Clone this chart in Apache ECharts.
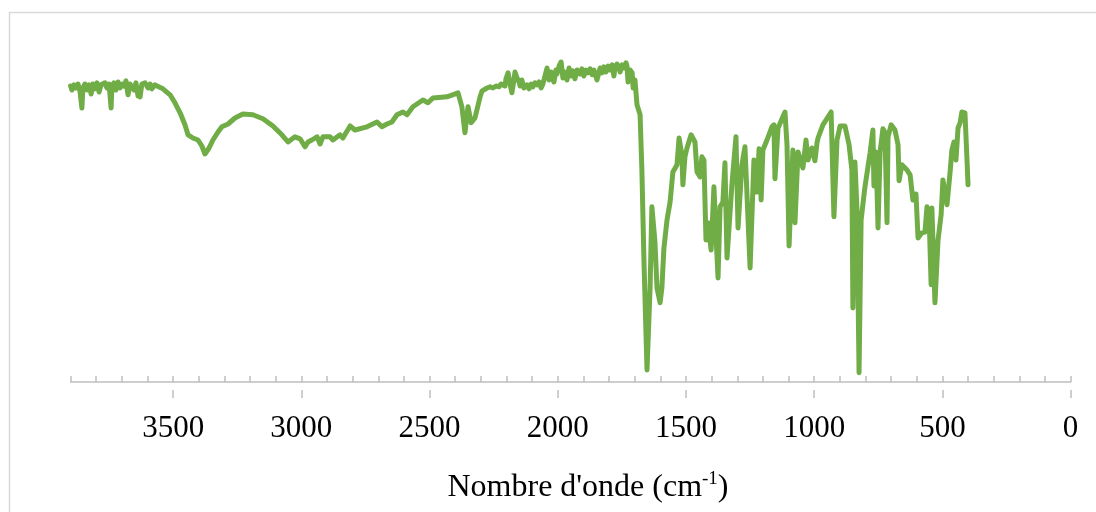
<!DOCTYPE html>
<html>
<head>
<meta charset="utf-8">
<title>Spectre IR</title>
<script src="https://cdn.jsdelivr.net/npm/echarts@6/dist/echarts.min.js"></script>
<style>
  html, body { margin: 0; padding: 0; background: #ffffff; }
  #chart { width: 1096px; height: 512px; }
</style>
</head>
<body>
<div id="chart"></div>
<script>
// Wavenumbers (cm-1) of the sampled spectrum points, high to low
const wavenumbers = [
  3900, 3895, 3887, 3879, 3871, 3863, 3856, 3852, 3844, 3836, 3828, 3820, 3813, 3805, 3797, 3789,
  3781, 3774, 3766, 3758, 3750, 3742, 3739, 3731, 3723, 3715, 3707, 3700, 3692, 3684, 3676, 3668,
  3661, 3653, 3645, 3637, 3629, 3622, 3610, 3598, 3590, 3583, 3571, 3563, 3540, 3512, 3493, 3473,
  3454, 3442, 3423, 3403, 3388, 3376, 3360, 3345, 3325, 3310, 3286, 3259, 3228, 3189, 3150, 3111,
  3076, 3052, 3025, 3005, 2986, 2974, 2959, 2939, 2927, 2916, 2888, 2877, 2849, 2838, 2810, 2791,
  2744, 2705, 2686, 2666, 2647, 2627, 2604, 2588, 2565, 2526, 2506, 2487, 2432, 2389, 2374, 2362,
  2350, 2338, 2323,
  2303, 2295, 2288, 2276, 2264, 2253, 2241, 2229, 2221, 2214, 2206, 2202, 2194, 2186, 2179, 2171,
  2167, 2159, 2151, 2147, 2140, 2132, 2120, 2112, 2104, 2097, 2089, 2081, 2073, 2065, 2058, 2050,
  2042, 2034, 2026, 2023, 2015, 2007, 2003, 1995, 1987, 1980, 1972, 1964, 1956, 1948, 1941, 1933,
  1925, 1913, 1906, 1898, 1890, 1882, 1874, 1866, 1859, 1847, 1839, 1835, 1827, 1820, 1812, 1804,
  1796, 1788, 1781, 1777, 1769, 1761, 1757, 1749, 1742, 1734, 1730, 1726, 1718, 1710, 1706, 1699,
  1691, 1679, 1672, 1664, 1652, 1640, 1633, 1621, 1613, 1601, 1594, 1586, 1574, 1562, 1551,
  1535, 1527, 1516, 1512, 1504, 1496, 1480, 1465, 1457, 1445, 1438, 1430, 1422, 1414, 1402, 1391,
  1383, 1375, 1367, 1356, 1348, 1340, 1321, 1305, 1297, 1282, 1270, 1250, 1235, 1223, 1215, 1207,
  1200, 1184, 1165, 1157, 1153, 1141, 1114, 1106, 1098, 1083, 1075, 1063, 1044, 1032, 1024, 1009,
  997, 989, 985, 966, 934, 923, 911, 899, 880, 864, 853, 849, 841, 833, 825, 817,
  802, 782, 771, 767, 759, 751, 743, 732, 724, 716, 712, 700, 685, 673, 669, 658,
  638, 626, 615, 603, 595, 580, 568, 560, 552, 544, 541, 529, 517, 505, 498, 482,
  470, 463, 455, 447, 439, 431, 424, 412, 404, 400
];

// Transmittance (%) at each wavenumber above
const transmittance = [
  74.0, 73.0, 74.3, 73.5, 74.5, 72.5, 68.5, 73.5, 74.5, 73.0, 74.3, 72.0, 74.5, 73.3, 74.8, 72.5,
  74.3, 73.8, 74.8, 73.5, 74.5, 68.5, 74.0, 74.8, 73.0, 75.0, 73.5, 74.5, 74.0, 75.3, 71.8, 74.5,
  75.0, 73.0, 74.8, 71.5, 71.3, 74.5, 74.8, 73.5, 74.5, 73.3, 74.3, 74.0, 73.3, 71.8, 69.8, 67.3,
  64.3, 61.8, 61.0, 60.5, 59.0, 57.0, 58.5, 60.5, 62.5, 63.8, 64.5, 66.0, 67.0, 66.8, 65.8, 64.0,
  61.8, 60.0, 61.3, 60.8, 58.8, 60.0, 60.5, 61.3, 59.5, 61.3, 61.3, 60.5, 61.8, 61.0, 64.0, 63.0,
  63.8, 65.0, 63.8, 64.5, 65.0, 66.8, 67.5, 66.8, 68.8, 70.5, 69.8, 71.0, 71.3, 72.3, 68.8, 62.3,
  68.8, 64.8, 66.0,
  71.3, 72.8, 73.3, 73.5, 73.8, 73.5, 74.0, 73.8, 74.5, 75.0, 74.0, 75.8, 77.3, 74.5, 72.3, 75.5,
  77.5, 76.0, 75.0, 74.0, 75.5, 73.5, 74.3, 73.3, 74.5, 73.8, 74.8, 74.3, 75.0, 73.5, 74.5, 76.5,
  78.5, 75.5, 77.5, 76.3, 75.0, 78.0, 77.0, 79.0, 80.0, 76.0, 77.5, 75.5, 78.5, 76.5, 77.8, 75.8,
  78.0, 77.0, 78.3, 76.5, 78.0, 77.3, 78.3, 76.8, 78.0, 75.5, 77.5, 78.5, 77.3, 78.8, 77.5, 79.0,
  78.0, 79.3, 76.5, 78.5, 79.5, 78.5, 77.5, 79.3, 78.5, 79.8, 79.0, 75.0, 78.0, 77.3, 73.5, 75.5,
  69.3, 66.8, 53.0, 30.5, 3.0, 23.5, 43.8, 35.0, 23.5, 19.8, 23.5, 33.5, 40.5, 45.0, 52.5,
  54.3, 61.0, 56.8, 49.3, 56.3, 58.5, 61.8, 60.0, 52.5, 51.3, 56.3, 55.5, 35.5, 39.8, 33.0, 48.8,
  36.8, 26.0, 43.8, 45.0, 54.8, 31.0, 49.3, 61.3, 38.5, 54.3, 58.8, 28.5, 55.5, 47.5, 58.3, 45.5,
  58.0, 60.5, 63.8, 64.3, 50.8, 63.5, 67.5, 59.3, 34.0, 58.0, 39.8, 57.5, 53.5, 60.5, 55.5, 58.5,
  55.3, 59.8, 61.0, 64.3, 67.5, 41.3, 60.5, 64.0, 64.0, 59.3, 53.0, 18.5, 55.0, 43.0, 2.3, 40.5,
  48.8, 57.3, 63.0, 49.0, 57.5, 38.5, 57.5, 63.3, 62.5, 39.8, 61.3, 64.3, 63.0, 59.3, 50.3, 54.3,
  53.0, 51.8, 45.5, 47.0, 36.0, 37.3, 37.5, 43.8, 41.8, 24.3, 43.5, 19.8, 35.5, 41.8, 50.5, 44.3,
  52.5, 58.0, 60.0, 55.5, 63.5, 64.8, 67.5, 67.3, 55.5, 49.3
];

// Labelled (major) ticks and the finer 100 cm-1 ticks of the wavenumber axis
const majorTicks = [0, 500, 1000, 1500, 2000, 2500, 3000, 3500];
const minorTicks = [0, 100, 200, 300, 400, 500, 600, 700, 800, 900, 1000, 1100, 1200, 1300,
  1400, 1500, 1600, 1700, 1800, 1900, 2000, 2100, 2200, 2300, 2400, 2500, 2600, 2700, 2800,
  2900, 3000, 3100, 3200, 3300, 3400, 3500, 3600, 3700, 3800, 3900];

const axisTitle = "Nombre d'onde (cm";
const axisTitleSup = '-1';

const points = wavenumbers.map((w, i) => [w, transmittance[i]]);

const AXIS_COLOR = '#bfbfbf';
const SERIF = "'Liberation Serif', 'Times New Roman', serif";

const chart = echarts.init(document.getElementById('chart'), null, { renderer: 'canvas' });

const baseAxis = {
  type: 'value',
  min: 0,
  max: 3900,
  inverse: true,
  position: 'bottom',
  splitLine: { show: false }
};

chart.setOption({
  animation: false,
  backgroundColor: '#ffffff',
  grid: { left: 70.6, right: 25.4, top: 42, bottom: 122, containLabel: false },
  xAxis: [
    Object.assign({}, baseAxis, {
      axisLine: { show: true, lineStyle: { color: AXIS_COLOR, width: 1.5 } },
      axisTick: {
        show: true, inside: true, length: 6, customValues: minorTicks,
        lineStyle: { color: AXIS_COLOR, width: 1.5 }
      },
      axisLabel: {
        show: true, customValues: majorTicks, margin: 23,
        formatter: v => String(v),
        fontFamily: SERIF, fontSize: 31, color: '#000000'
      }
    }),
    Object.assign({}, baseAxis, {
      axisLine: { show: false },
      axisTick: {
        show: true, inside: false, length: 8, customValues: majorTicks,
        lineStyle: { color: AXIS_COLOR, width: 1.5 }
      },
      axisLabel: { show: false }
    })
  ],
  yAxis: {
    type: 'value',
    min: -2,
    max: 85,
    show: false,
    splitLine: { show: false }
  },
  series: [
    {
      type: 'line',
      data: points,
      showSymbol: false,
      symbol: 'none',
      lineStyle: { color: '#70ad47', width: 5, join: 'round', cap: 'round' },
      z: 5
    }
  ],
  graphic: [
    {
      type: 'polyline',
      silent: true,
      shape: { points: [[9.5, 512], [9.5, 12.5], [1096, 12.5]] },
      style: { stroke: '#d9d9d9', lineWidth: 1.5, fill: null }
    },
    {
      type: 'text',
      silent: true,
      x: 588,
      y: 488,
      style: {
        text: '{base|' + axisTitle + '}{sup|' + axisTitleSup + '}{base|)}',
        align: 'center',
        verticalAlign: 'middle',
        rich: {
          base: { fontFamily: SERIF, fontSize: 32, lineHeight: 36, fill: '#000000' },
          sup: { fontFamily: SERIF, fontSize: 19, lineHeight: 19, verticalAlign: 'top', fill: '#000000' }
        }
      }
    }
  ]
});
</script>
</body>
</html>
